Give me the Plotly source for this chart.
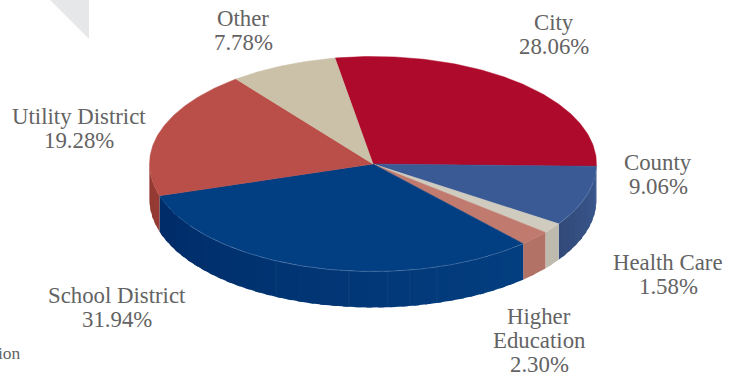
import numpy as np
import plotly.graph_objects as go

# Share of the total by issuer type, clockwise from the start angle
categories = ["City", "County", "Health Care", "Higher Education", "School District", "Utility District", "Other"]
shares = [28.06, 9.06, 1.58, 2.30, 31.94, 19.28, 7.78]
top_colors = ["#AE0A2B", "#3A5A96", "#CFCBBE", "#C07A6E", "#023E82", "#BA4F49", "#CAC1A8"]
# Rim shading runs from the clockwise-first end of each slice to its far end
rim_start = [(142, 8, 34), (58, 88, 142), (190, 187, 174), (178, 115, 102), (3, 62, 128), (149, 59, 52), (168, 159, 136)]
rim_end = [(142, 8, 34), (50, 74, 122), (190, 187, 174), (178, 115, 102), (0, 44, 104), (145, 56, 50), (168, 159, 136)]

# Label line layout: text lines per slice and where each block sits
label_lines = [["City"], ["County"], ["Health Care"], ["Higher", "Education"], ["School District"], ["Utility District"], ["Other"]]
label_centers = [(554, 22), (658, 162), (668, 262), (539, 316), (117, 295), (79, 116), (243, 18)]
LINE_STEP = 24

# Projected pie geometry in page pixels
CX, CY, RX, RY, DEPTH = 373.0, 164.0, 223.5, 107.5, 36.0
START_DEG = -9.8
# Faint vertical seams on the long blue wall, in pie degrees
seam_degrees = [163.4, 170.5, 176.2, 186.2, 205.7]


def rim_point(deg, drop=0.0):
    t = np.radians(deg)
    return CX + RX * np.sin(t), CY - RY * np.cos(t) + drop


fig = go.Figure()


def add_polygon(xs, ys, color, edge=0.5):
    fig.add_trace(go.Scatter(x=xs, y=ys, mode="lines", fill="toself", fillcolor=color,
                             line=dict(color=color, width=edge), hoverinfo="skip", showlegend=False))


edges = START_DEG + np.concatenate([[0], np.cumsum(shares)]) * 3.6 / (sum(shares) / 100)

# Rim walls: only the front half of the disc (90 to 270 degrees) faces the viewer.
# Facets are painted from far end to near end, each one overlapping the last, so no gaps show.
for a, b, c0, c1 in zip(edges[:-1], edges[1:], rim_start, rim_end):
    lo, hi = max(a, 90.0), min(b, 270.0)
    if lo >= hi:
        continue
    n_facets = max(2, int((hi - lo) / 3))
    steps = np.linspace(lo, hi, n_facets + 1)
    for k in range(n_facets - 1, -1, -1):
        mix = k / max(1, n_facets - 1)
        shade = tuple(round(u + (v - u) * mix) for u, v in zip(c0, c1))
        far = min(steps[k + 1] + 1.5, hi)
        arc = np.linspace(steps[k], far, 10)
        upper = [rim_point(d) for d in arc]
        lower = [rim_point(d, DEPTH) for d in arc[::-1]]
        pts = upper + lower + upper[:1]
        add_polygon([p[0] for p in pts], [p[1] for p in pts], "rgb(%d,%d,%d)" % shade, edge=0)

for d in seam_degrees:
    p, q = rim_point(d), rim_point(d, DEPTH)
    fig.add_trace(go.Scatter(x=[p[0], q[0]], y=[p[1], q[1]], mode="lines",
                             line=dict(color="rgba(70,110,160,0.3)", width=0.7),
                             hoverinfo="skip", showlegend=False))

# Top faces
for a, b, color in zip(edges[:-1], edges[1:], top_colors):
    arc = np.linspace(a, b, 120)
    pts = [(CX, CY)] + [rim_point(d) for d in arc] + [(CX, CY)]
    add_polygon([p[0] for p in pts], [p[1] for p in pts], color)

# Thin highlight where the top face meets the wall, school and county slices
for i in (1, 4):
    arc = np.linspace(max(edges[i], 100.0), min(edges[i + 1], 235.0), 100)
    pts = [rim_point(d) for d in arc]
    fig.add_trace(go.Scatter(x=[p[0] for p in pts], y=[p[1] for p in pts], mode="lines",
                             line=dict(color="rgba(120,150,190,0.55)", width=0.7),
                             hoverinfo="skip", showlegend=False))

annotations = []
text_font = dict(family="Liberation Serif", size=22.8, color="#636363")
for lines, share, (lx, ly) in zip(label_lines, shares, label_centers):
    for i, line in enumerate(lines + [f"{share:.2f}%"]):
        annotations.append(dict(x=lx, y=ly + i * LINE_STEP, text=line, showarrow=False,
                                xanchor="center", yanchor="middle", font=text_font))

# Clipped caption fragment at the page edge
annotations.append(dict(x=23, y=353, text="ion", showarrow=False, xanchor="right", yanchor="middle",
                        font=dict(family="Liberation Serif", size=17.5, color="#636363")))

# Pale corner ornament
shapes = [dict(type="path", path="M 50 0 L 89 0 L 89 39 Z", fillcolor="#E6E7E9", line=dict(width=0), layer="below")]

fig.update_layout(
    width=742, height=373, margin=dict(l=0, r=0, t=0, b=0),
    paper_bgcolor="white", plot_bgcolor="white",
    xaxis=dict(range=[0, 742], visible=False, fixedrange=True),
    yaxis=dict(range=[373, 0], visible=False, fixedrange=True),
    annotations=annotations, shapes=shapes, showlegend=False,
)
fig.write_html("out.html", config={"displayModeBar": False})
